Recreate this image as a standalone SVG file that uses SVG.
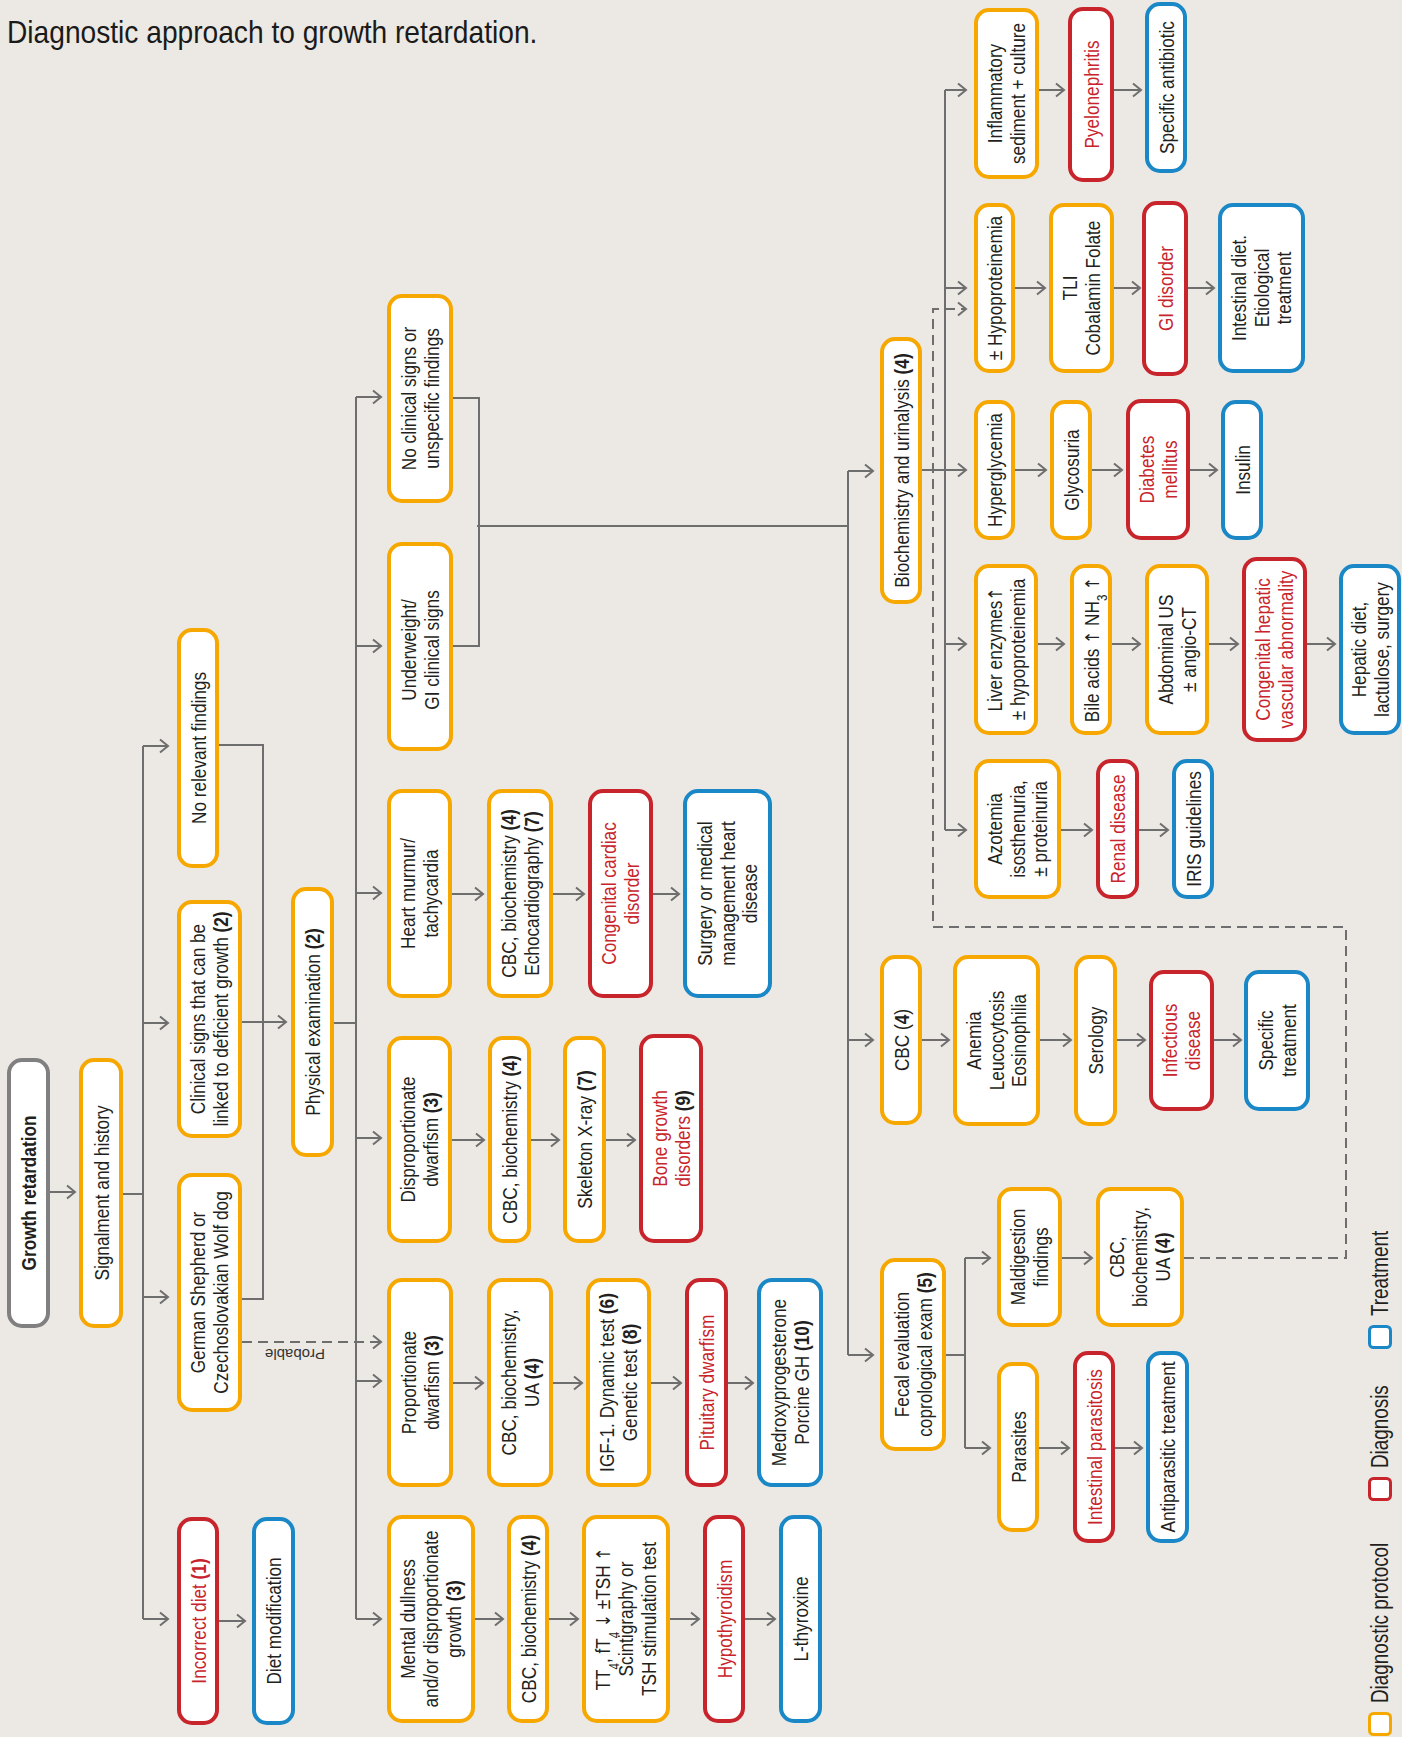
<svg xmlns="http://www.w3.org/2000/svg" width="1402" height="1737" viewBox="0 0 1402 1737">
<style>
.bx{fill:#fff;stroke-width:4}
.o{stroke:#F6A800}.r{stroke:#C8242C}.b{stroke:#1A87C7}.g{stroke:#808080}
text{font-family:"Liberation Sans",Arimo,Arial,sans-serif;font-size:21px;fill:#231F20;text-anchor:middle}
.rt{fill:#C8242C}
.bd{font-weight:bold}
.sb{font-size:14px;baseline-shift:sub}
.ar{font-family:"DejaVu Sans",sans-serif;font-size:19px}
.lg{font-size:23px;text-anchor:start}
.ln{stroke:#6E6E6E;stroke-width:2;fill:none}
.ds{stroke-dasharray:10 6}
</style>
<defs>
<marker id="a" markerWidth="12" markerHeight="16" refX="10" refY="8" orient="auto" markerUnits="userSpaceOnUse"><path d="M2,1.5 L10,8 L2,14.5" fill="none" stroke="#6E6E6E" stroke-width="2"/></marker>
</defs>
<rect width="1402" height="1737" fill="#ECE9E4"/>
<text transform="translate(7,43) scale(0.88,1)" style="font-size:32px;text-anchor:start;fill:#1a1a1a">Diagnostic approach to growth retardation.</text>

<g id="connectors" class="ln">
<path d="M50,1192 H75" marker-end="url(#a)"/>
<path d="M123,1194 H143 M143,746 V1619"/>
<path d="M143,746 H168" marker-end="url(#a)"/>
<path d="M143,1023 H168" marker-end="url(#a)"/>
<path d="M143,1297 H168" marker-end="url(#a)"/>
<path d="M143,1619 H168" marker-end="url(#a)"/>
<path d="M219,1621 H245" marker-end="url(#a)"/>
<path d="M219,745 H263 V1299 H242"/>
<path d="M242,1022 H286" marker-end="url(#a)"/>
<path d="M334,1023 H356 M356,397 V1619"/>
<path d="M356,397 H381" marker-end="url(#a)"/>
<path d="M356,646 H381" marker-end="url(#a)"/>
<path d="M356,893 H381" marker-end="url(#a)"/>
<path d="M356,1138 H381" marker-end="url(#a)"/>
<path d="M356,1381 H381" marker-end="url(#a)"/>
<path d="M356,1619 H381" marker-end="url(#a)"/>
<path class="ds" d="M242,1342 H381" marker-end="url(#a)"/>
<path d="M452,894 H483" marker-end="url(#a)"/>
<path d="M553,894 H584" marker-end="url(#a)"/>
<path d="M653,894 H679" marker-end="url(#a)"/>
<path d="M452,1140 H484" marker-end="url(#a)"/>
<path d="M531,1140 H559" marker-end="url(#a)"/>
<path d="M606,1140 H635" marker-end="url(#a)"/>
<path d="M453,1383 H483" marker-end="url(#a)"/>
<path d="M553,1383 H582" marker-end="url(#a)"/>
<path d="M651,1383 H681" marker-end="url(#a)"/>
<path d="M728,1383 H753" marker-end="url(#a)"/>
<path d="M475,1619 H503" marker-end="url(#a)"/>
<path d="M549,1619 H578" marker-end="url(#a)"/>
<path d="M670,1619 H699" marker-end="url(#a)"/>
<path d="M745,1619 H775" marker-end="url(#a)"/>
<path d="M453,398 H479 V646 H453 M477,526 H848 M848,471 V1355"/>
<path d="M848,471 H873" marker-end="url(#a)"/>
<path d="M848,1040 H873" marker-end="url(#a)"/>
<path d="M848,1355 H873" marker-end="url(#a)"/>
<path d="M922,470 H945 M945,90 V830"/>
<path d="M945,90 H966" marker-end="url(#a)"/>
<path d="M945,288 H966" marker-end="url(#a)"/>
<path d="M945,470 H966" marker-end="url(#a)"/>
<path d="M945,644 H966" marker-end="url(#a)"/>
<path d="M945,830 H966" marker-end="url(#a)"/>
<path class="ds" d="M1184,1258 H1346 V927 H933 V309 H966" marker-end="url(#a)"/>
<path d="M1039,90 H1064" marker-end="url(#a)"/>
<path d="M1114,90 H1141" marker-end="url(#a)"/>
<path d="M1015,288 H1045" marker-end="url(#a)"/>
<path d="M1114,288 H1140" marker-end="url(#a)"/>
<path d="M1188,288 H1214" marker-end="url(#a)"/>
<path d="M1015,470 H1046" marker-end="url(#a)"/>
<path d="M1092,470 H1122" marker-end="url(#a)"/>
<path d="M1190,470 H1217" marker-end="url(#a)"/>
<path d="M1038,644 H1064" marker-end="url(#a)"/>
<path d="M1112,644 H1140" marker-end="url(#a)"/>
<path d="M1209,644 H1238" marker-end="url(#a)"/>
<path d="M1307,644 H1335" marker-end="url(#a)"/>
<path d="M1061,830 H1092" marker-end="url(#a)"/>
<path d="M1139,830 H1168" marker-end="url(#a)"/>
<path d="M922,1040 H949" marker-end="url(#a)"/>
<path d="M1040,1040 H1071" marker-end="url(#a)"/>
<path d="M1117,1040 H1145" marker-end="url(#a)"/>
<path d="M1214,1040 H1241" marker-end="url(#a)"/>
<path d="M946,1355 H965 M965,1258 V1448"/>
<path d="M965,1258 H990" marker-end="url(#a)"/>
<path d="M965,1448 H990" marker-end="url(#a)"/>
<path d="M1062,1258 H1092" marker-end="url(#a)"/>
<path d="M1039,1448 H1069" marker-end="url(#a)"/>
<path d="M1115,1448 H1142" marker-end="url(#a)"/>
</g>
<text transform="translate(295,1349) rotate(180)" style="font-size:15px;fill:#333">Probable</text>

<g id="n-growth"><rect class="bx g" x="9" y="1060" width="39" height="266" rx="13"/><text class="bd" transform="translate(28.5,1193) rotate(-90) scale(0.82,1)"><tspan x="0" y="7.5">Growth retardation</tspan></text></g>
<g id="n-signal"><rect class="bx o" x="81" y="1060" width="40" height="266" rx="13"/><text transform="translate(101,1193) rotate(-90) scale(0.82,1)"><tspan x="0" y="7.5">Signalment and history</tspan></text></g>
<g id="n-norel"><rect class="bx o" x="179" y="630" width="38" height="236" rx="13"/><text transform="translate(198,748) rotate(-90) scale(0.82,1)"><tspan x="0" y="7.5">No relevant findings</tspan></text></g>
<g id="n-clinical"><rect class="bx o" x="179" y="902" width="61" height="234" rx="13"/><text transform="translate(209.5,1019) rotate(-90) scale(0.82,1)"><tspan x="0" y="-4.5">Clinical signs that can be</tspan><tspan x="0" y="18.5">linked to deficient growth <tspan class="bd">(2)</tspan></tspan></text></g>
<g id="n-gsd"><rect class="bx o" x="179" y="1175" width="61" height="235" rx="13"/><text transform="translate(209.5,1292.5) rotate(-90) scale(0.82,1)"><tspan x="0" y="-4.5">German Shepherd or</tspan><tspan x="0" y="18.5">Czechoslovakian Wolf dog</tspan></text></g>
<g id="n-incdiet"><rect class="bx r" x="179" y="1519" width="38" height="204" rx="13"/><text class="rt" transform="translate(198,1621) rotate(-90) scale(0.82,1)"><tspan x="0" y="7.5">Incorrect diet <tspan class="bd">(1)</tspan></tspan></text></g>
<g id="n-dietmod"><rect class="bx b" x="254" y="1519" width="39" height="204" rx="13"/><text transform="translate(273.5,1621) rotate(-90) scale(0.82,1)"><tspan x="0" y="7.5">Diet modification</tspan></text></g>
<g id="n-phys"><rect class="bx o" x="293" y="889" width="39" height="266" rx="13"/><text transform="translate(312.5,1022) rotate(-90) scale(0.82,1)"><tspan x="0" y="7.5">Physical examination <tspan class="bd">(2)</tspan></tspan></text></g>

<g id="n-noclin"><rect class="bx o" x="389" y="296" width="62" height="205" rx="13"/><text transform="translate(420,398.5) rotate(-90) scale(0.82,1)"><tspan x="0" y="-4.5">No clinical signs or</tspan><tspan x="0" y="18.5">unspecific findings</tspan></text></g>
<g id="n-under"><rect class="bx o" x="389" y="544" width="62" height="205" rx="13"/><text transform="translate(420,650) rotate(-90) scale(0.82,1)"><tspan x="0" y="-4.5">Underweight/</tspan><tspan x="0" y="18.5">GI clinical signs</tspan></text></g>
<g id="n-heart"><rect class="bx o" x="389" y="791" width="61" height="205" rx="13"/><text transform="translate(419.5,893.5) rotate(-90) scale(0.82,1)"><tspan x="0" y="-4.5">Heart murmur/</tspan><tspan x="0" y="18.5">tachycardia</tspan></text></g>
<g id="n-dispro"><rect class="bx o" x="389" y="1038" width="61" height="203" rx="13"/><text transform="translate(419.5,1139.5) rotate(-90) scale(0.82,1)"><tspan x="0" y="-4.5">Disproportionate</tspan><tspan x="0" y="18.5">dwarfism <tspan class="bd">(3)</tspan></tspan></text></g>
<g id="n-propo"><rect class="bx o" x="389" y="1280" width="62" height="205" rx="13"/><text transform="translate(420,1382.5) rotate(-90) scale(0.82,1)"><tspan x="0" y="-4.5">Proportionate</tspan><tspan x="0" y="18.5">dwarfism <tspan class="bd">(3)</tspan></tspan></text></g>
<g id="n-mental"><rect class="bx o" x="389" y="1517" width="84" height="204" rx="13"/><text transform="translate(431,1619) rotate(-90) scale(0.82,1)"><tspan x="0" y="-16">Mental dullness</tspan><tspan x="0" y="7">and/or disproportionate</tspan><tspan x="0" y="30">growth <tspan class="bd">(3)</tspan></tspan></text></g>

<g id="n-heart2"><rect class="bx o" x="489" y="791" width="62" height="205" rx="13"/><text transform="translate(520,893.5) rotate(-90) scale(0.82,1)"><tspan x="0" y="-4.5">CBC, biochemistry <tspan class="bd">(4)</tspan></tspan><tspan x="0" y="18.5">Echocardiography <tspan class="bd">(7)</tspan></tspan></text></g>
<g id="n-cardiac"><rect class="bx r" x="590" y="791" width="61" height="205" rx="13"/><text class="rt" transform="translate(620.5,893.5) rotate(-90) scale(0.82,1)"><tspan x="0" y="-4.5">Congenital cardiac</tspan><tspan x="0" y="18.5">disorder</tspan></text></g>
<g id="n-surgery"><rect class="bx b" x="685" y="791" width="85" height="205" rx="13"/><text transform="translate(727.5,893.5) rotate(-90) scale(0.82,1)"><tspan x="0" y="-16">Surgery or medical</tspan><tspan x="0" y="7">management heart</tspan><tspan x="0" y="30">disease</tspan></text></g>
<g id="n-dispro2"><rect class="bx o" x="490" y="1038" width="39" height="203" rx="13"/><text transform="translate(509.5,1139.5) rotate(-90) scale(0.82,1)"><tspan x="0" y="7.5">CBC, biochemistry <tspan class="bd">(4)</tspan></tspan></text></g>
<g id="n-xray"><rect class="bx o" x="565" y="1038" width="39" height="203" rx="13"/><text transform="translate(584.5,1139.5) rotate(-90) scale(0.82,1)"><tspan x="0" y="7.5">Skeleton X-ray <tspan class="bd">(7)</tspan></tspan></text></g>
<g id="n-bone"><rect class="bx r" x="641" y="1036" width="60" height="205" rx="13"/><text class="rt" transform="translate(671,1138.5) rotate(-90) scale(0.82,1)"><tspan x="0" y="-4.5">Bone growth</tspan><tspan x="0" y="18.5">disorders <tspan class="bd" style="fill:#231F20">(9)</tspan></tspan></text></g>
<g id="n-propo2"><rect class="bx o" x="489" y="1280" width="62" height="205" rx="13"/><text transform="translate(520,1382.5) rotate(-90) scale(0.82,1)"><tspan x="0" y="-4.5">CBC, biochemistry,</tspan><tspan x="0" y="18.5">UA <tspan class="bd">(4)</tspan></tspan></text></g>
<g id="n-igf"><rect class="bx o" x="588" y="1280" width="61" height="205" rx="13"/><text transform="translate(618.5,1382.5) rotate(-90) scale(0.82,1)"><tspan x="0" y="-4.5">IGF-1. Dynamic test <tspan class="bd">(6)</tspan></tspan><tspan x="0" y="18.5">Genetic test <tspan class="bd">(8)</tspan></tspan></text></g>
<g id="n-pit"><rect class="bx r" x="687" y="1280" width="39" height="205" rx="13"/><text class="rt" transform="translate(706.5,1382.5) rotate(-90) scale(0.82,1)"><tspan x="0" y="7.5">Pituitary dwarfism</tspan></text></g>
<g id="n-medroxy"><rect class="bx b" x="759" y="1280" width="62" height="205" rx="13"/><text transform="translate(790,1382.5) rotate(-90) scale(0.82,1)"><tspan x="0" y="-4.5">Medroxyprogesterone</tspan><tspan x="0" y="18.5">Porcine GH <tspan class="bd">(10)</tspan></tspan></text></g>
<g id="n-mental2"><rect class="bx o" x="509" y="1517" width="38" height="204" rx="13"/><text transform="translate(528,1619) rotate(-90) scale(0.82,1)"><tspan x="0" y="7.5">CBC, biochemistry <tspan class="bd">(4)</tspan></tspan></text></g>
<g id="n-tt4"><rect class="bx o" x="584" y="1517" width="84" height="204" rx="13"/><text transform="translate(626,1619) rotate(-90) scale(0.82,1)"><tspan x="0" y="-16">TT<tspan class="sb">4</tspan>, fT<tspan class="sb">4</tspan> <tspan class="ar">↓</tspan> ±TSH <tspan class="ar">↑</tspan></tspan><tspan x="0" y="7">Scintigraphy or</tspan><tspan x="0" y="30">TSH stimulation test</tspan></text></g>
<g id="n-hypo"><rect class="bx r" x="705" y="1517" width="38" height="204" rx="13"/><text class="rt" transform="translate(724,1619) rotate(-90) scale(0.82,1)"><tspan x="0" y="7.5">Hypothyroidism</tspan></text></g>
<g id="n-lthy"><rect class="bx b" x="781" y="1517" width="39" height="204" rx="13"/><text transform="translate(800.5,1619) rotate(-90) scale(0.82,1)"><tspan x="0" y="7.5">L-thyroxine</tspan></text></g>

<g id="n-biochem"><rect class="bx o" x="882" y="339" width="38" height="263" rx="13"/><text transform="translate(901,470.5) rotate(-90) scale(0.82,1)"><tspan x="0" y="7.5">Biochemistry and urinalysis <tspan class="bd">(4)</tspan></tspan></text></g>
<g id="n-cbc"><rect class="bx o" x="882" y="957" width="38" height="166" rx="13"/><text transform="translate(901,1040) rotate(-90) scale(0.82,1)"><tspan x="0" y="7.5">CBC (<tspan class="bd">4</tspan>)</tspan></text></g>
<g id="n-fecal"><rect class="bx o" x="882" y="1260" width="62" height="189" rx="13"/><text transform="translate(913,1354.5) rotate(-90) scale(0.82,1)"><tspan x="0" y="-4.5">Fecal  evaluation</tspan><tspan x="0" y="18.5">coprological exam <tspan class="bd">(5)</tspan></tspan></text></g>

<g id="n-inflam"><rect class="bx o" x="976" y="10" width="61" height="167" rx="13"/><text transform="translate(1006.5,93.5) rotate(-90) scale(0.82,1)"><tspan x="0" y="-4.5">Inflammatory</tspan><tspan x="0" y="18.5">sediment + culture</tspan></text></g>
<g id="n-pyelo"><rect class="bx r" x="1070" y="9" width="42" height="171" rx="13"/><text class="rt" transform="translate(1091,94.5) rotate(-90) scale(0.82,1)"><tspan x="0" y="7.5">Pyelonephritis</tspan></text></g>
<g id="n-antib"><rect class="bx b" x="1147" y="4" width="38" height="167" rx="13"/><text transform="translate(1166,87.5) rotate(-90) scale(0.82,1)"><tspan x="0" y="7.5">Specific antibiotic</tspan></text></g>
<g id="n-hypop"><rect class="bx o" x="976" y="205" width="37" height="166" rx="13"/><text transform="translate(994.5,288) rotate(-90) scale(0.82,1)"><tspan x="0" y="7.5">± Hypoproteinemia</tspan></text></g>
<g id="n-tli"><rect class="bx o" x="1051" y="205" width="61" height="166" rx="13"/><text transform="translate(1081.5,288) rotate(-90) scale(0.82,1)"><tspan x="0" y="-4.5">TLI</tspan><tspan x="0" y="18.5">Cobalamin Folate</tspan></text></g>
<g id="n-gi"><rect class="bx r" x="1144" y="203" width="42" height="171" rx="13"/><text class="rt" transform="translate(1165,288.5) rotate(-90) scale(0.82,1)"><tspan x="0" y="7.5">GI disorder</tspan></text></g>
<g id="n-intdiet"><rect class="bx b" x="1220" y="205" width="83" height="166" rx="13"/><text transform="translate(1261.5,288) rotate(-90) scale(0.82,1)"><tspan x="0" y="-16">Intestinal diet.</tspan><tspan x="0" y="7">Etiological</tspan><tspan x="0" y="30">treatment</tspan></text></g>
<g id="n-hyperg"><rect class="bx o" x="976" y="402" width="37" height="136" rx="13"/><text transform="translate(994.5,470) rotate(-90) scale(0.82,1)"><tspan x="0" y="7.5">Hyperglycemia</tspan></text></g>
<g id="n-glyco"><rect class="bx o" x="1052" y="402" width="38" height="136" rx="13"/><text transform="translate(1071,470) rotate(-90) scale(0.82,1)"><tspan x="0" y="7.5">Glycosuria</tspan></text></g>
<g id="n-diabetes"><rect class="bx r" x="1128" y="401" width="60" height="137" rx="13"/><text class="rt" transform="translate(1158,469.5) rotate(-90) scale(0.82,1)"><tspan x="0" y="-4.5">Diabetes</tspan><tspan x="0" y="18.5">mellitus</tspan></text></g>
<g id="n-insulin"><rect class="bx b" x="1223" y="402" width="38" height="136" rx="13"/><text transform="translate(1242,470) rotate(-90) scale(0.82,1)"><tspan x="0" y="7.5">Insulin</tspan></text></g>
<g id="n-liver"><rect class="bx o" x="976" y="566" width="60" height="167" rx="13"/><text transform="translate(1006,649.5) rotate(-90) scale(0.82,1)"><tspan x="0" y="-4.5">Liver enzymes<tspan class="ar">↑</tspan></tspan><tspan x="0" y="18.5">± hypoproteinemia</tspan></text></g>
<g id="n-bile"><rect class="bx o" x="1072" y="566" width="38" height="167" rx="13"/><text transform="translate(1091,649.5) rotate(-90) scale(0.82,1)"><tspan x="0" y="7.5">Bile acids <tspan class="ar">↑</tspan> NH<tspan class="sb">3</tspan> <tspan class="ar">↑</tspan></tspan></text></g>
<g id="n-abdus"><rect class="bx o" x="1147" y="566" width="60" height="167" rx="13"/><text transform="translate(1177,649.5) rotate(-90) scale(0.82,1)"><tspan x="0" y="-4.5">Abdominal US</tspan><tspan x="0" y="18.5">± angio-CT</tspan></text></g>
<g id="n-hepatic"><rect class="bx r" x="1244" y="559" width="61" height="181" rx="13"/><text class="rt" transform="translate(1274.5,649.5) rotate(-90) scale(0.82,1)"><tspan x="0" y="-4.5">Congenital hepatic</tspan><tspan x="0" y="18.5">vascular abnormality</tspan></text></g>
<g id="n-hepdiet"><rect class="bx b" x="1341" y="566" width="58" height="167" rx="13"/><text transform="translate(1370,649.5) rotate(-90) scale(0.82,1)"><tspan x="0" y="-4.5">Hepatic diet,</tspan><tspan x="0" y="18.5">lactulose, surgery</tspan></text></g>
<g id="n-azot"><rect class="bx o" x="976" y="761" width="83" height="136" rx="13"/><text transform="translate(1017.5,829) rotate(-90) scale(0.82,1)"><tspan x="0" y="-16">Azotemia</tspan><tspan x="0" y="7">isosthenuria,</tspan><tspan x="0" y="30">± proteinuria</tspan></text></g>
<g id="n-renal"><rect class="bx r" x="1098" y="761" width="39" height="136" rx="13"/><text class="rt" transform="translate(1117.5,829) rotate(-90) scale(0.82,1)"><tspan x="0" y="7.5">Renal disease</tspan></text></g>
<g id="n-iris"><rect class="bx b" x="1174" y="761" width="38" height="136" rx="13"/><text transform="translate(1193,829) rotate(-90) scale(0.82,1)"><tspan x="0" y="7.5">IRIS guidelines</tspan></text></g>
<g id="n-anemia"><rect class="bx o" x="955" y="957" width="83" height="167" rx="13"/><text transform="translate(996.5,1040.5) rotate(-90) scale(0.82,1)"><tspan x="0" y="-16">Anemia</tspan><tspan x="0" y="7">Leucocytosis</tspan><tspan x="0" y="30">Eosinophilia</tspan></text></g>
<g id="n-serol"><rect class="bx o" x="1076" y="957" width="39" height="167" rx="13"/><text transform="translate(1095.5,1040.5) rotate(-90) scale(0.82,1)"><tspan x="0" y="7.5">Serology</tspan></text></g>
<g id="n-infect"><rect class="bx r" x="1151" y="972" width="61" height="137" rx="13"/><text class="rt" transform="translate(1181.5,1040.5) rotate(-90) scale(0.82,1)"><tspan x="0" y="-4.5">Infectious</tspan><tspan x="0" y="18.5">disease</tspan></text></g>
<g id="n-spectreat"><rect class="bx b" x="1246" y="972" width="62" height="137" rx="13"/><text transform="translate(1277,1040.5) rotate(-90) scale(0.82,1)"><tspan x="0" y="-4.5">Specific</tspan><tspan x="0" y="18.5">treatment</tspan></text></g>
<g id="n-maldig"><rect class="bx o" x="999" y="1189" width="61" height="136" rx="13"/><text transform="translate(1029.5,1257) rotate(-90) scale(0.82,1)"><tspan x="0" y="-4.5">Maldigestion</tspan><tspan x="0" y="18.5">findings</tspan></text></g>
<g id="n-maldig2"><rect class="bx o" x="1098" y="1189" width="84" height="136" rx="13"/><text transform="translate(1140,1257) rotate(-90) scale(0.82,1)"><tspan x="0" y="-16">CBC,</tspan><tspan x="0" y="7">biochemistry,</tspan><tspan x="0" y="30">UA <tspan class="bd">(4)</tspan></tspan></text></g>
<g id="n-parasites"><rect class="bx o" x="999" y="1364" width="38" height="166" rx="13"/><text transform="translate(1018,1447) rotate(-90) scale(0.82,1)"><tspan x="0" y="7.5">Parasites</tspan></text></g>
<g id="n-intpar"><rect class="bx r" x="1075" y="1353" width="38" height="188" rx="13"/><text class="rt" transform="translate(1094,1447) rotate(-90) scale(0.82,1)"><tspan x="0" y="7.5">Intestinal parasitosis</tspan></text></g>
<g id="n-antipar"><rect class="bx b" x="1148" y="1353" width="39" height="188" rx="13"/><text transform="translate(1167.5,1447) rotate(-90) scale(0.82,1)"><tspan x="0" y="7.5">Antiparasitic treatment</tspan></text></g>

<g id="legend">
<rect class="bx o" x="1369.5" y="1713.5" width="21" height="21" rx="4" style="stroke-width:3"/>
<text class="lg" transform="translate(1388,1703) rotate(-90) scale(0.82,1)">Diagnostic protocol</text>
<rect class="bx r" x="1369.5" y="1478.5" width="21" height="21" rx="4" style="stroke-width:3"/>
<text class="lg" transform="translate(1388,1468) rotate(-90) scale(0.82,1)">Diagnosis</text>
<rect class="bx b" x="1369.5" y="1326.5" width="21" height="21" rx="4" style="stroke-width:3"/>
<text class="lg" transform="translate(1388,1316) rotate(-90) scale(0.82,1)">Treatment</text>
</g>
</svg>
